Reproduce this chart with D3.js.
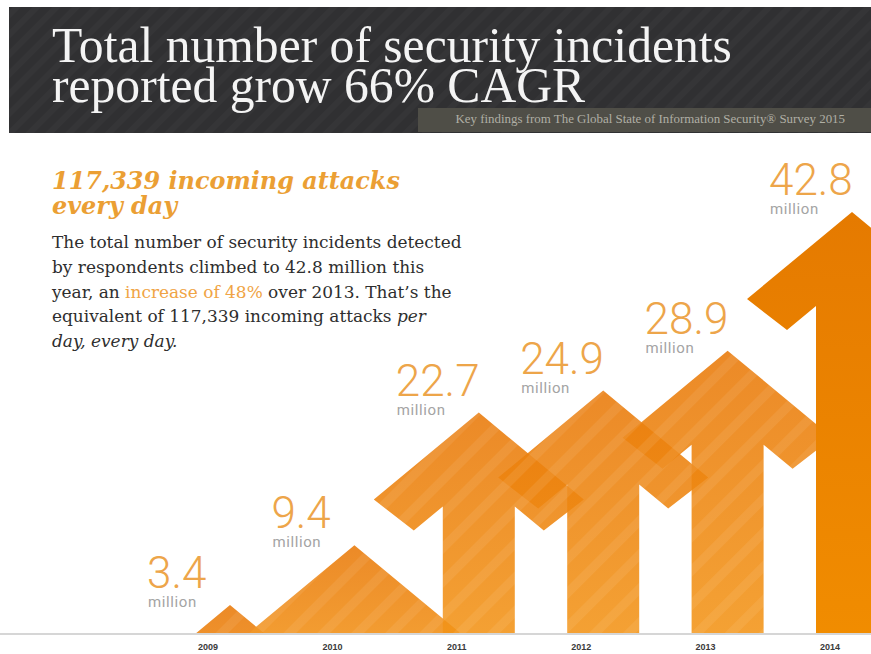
<!DOCTYPE html>
<html>
<head>
<meta charset="utf-8">
<script src="https://cdn.jsdelivr.net/npm/d3@7"></script>
<style>
  body { margin: 0; background: #fff; }
  svg { display: block; }
</style>
</head>
<body>
<div id="container"></div>
<script>
const years = ["2009", "2010", "2011", "2012", "2013", "2014"];
const incidents = [3.4, 9.4, 22.7, 24.9, 28.9, 42.8];
const unitLabel = "million";

const titleLines = ["Total number of security incidents", "reported grow 66% CAGR"];
const subtitle = "Key findings from The Global State of Information Security® Survey 2015";
const headline = ["117,339 incoming attacks", "every day"];
// each line is a list of [text, kind] pieces; kind "hi" = orange, "it" = italic
const bodyLines = [
  [["The total number of security incidents detected", ""]],
  [["by respondents climbed to 42.8 million this", ""]],
  [["year, an ", ""], ["increase of 48%", "hi"], [" over 2013. That\u2019s the", ""]],
  [["equivalent of 117,339 incoming attacks ", ""], ["per", "it"]],
  [["day, every day.", "it"]]
];

const width = 871, height = 654;
const baseY = 633;

const svg = d3.create("svg")
  .attr("width", width)
  .attr("height", height);
container.append(svg.node());

const defs = svg.append("defs");

// diagonal stripe textures
const hStripes = defs.append("pattern")
  .attr("id", "hstripes")
  .attr("patternUnits", "userSpaceOnUse")
  .attr("width", 14).attr("height", 14)
  .attr("patternTransform", "rotate(45)");
hStripes.append("rect").attr("width", 6).attr("height", 14).attr("fill", "#fff").attr("opacity", 0.025);

const aStripes = defs.append("pattern")
  .attr("id", "astripes")
  .attr("patternUnits", "userSpaceOnUse")
  .attr("width", 24).attr("height", 24)
  .attr("patternTransform", "rotate(45)");
aStripes.append("rect").attr("width", 9).attr("height", 24).attr("fill", "#fff").attr("opacity", 0.07);

const g1 = defs.append("linearGradient").attr("id", "agrad")
  .attr("x1", 0).attr("y1", 0).attr("x2", 0).attr("y2", 1);
g1.append("stop").attr("offset", "0%").attr("stop-color", "#e97a0a");
g1.append("stop").attr("offset", "100%").attr("stop-color", "#f4981a");

const g2 = defs.append("linearGradient").attr("id", "agrad2")
  .attr("x1", 0).attr("y1", 0).attr("x2", 0).attr("y2", 1);
g2.append("stop").attr("offset", "0%").attr("stop-color", "#e57a00");
g2.append("stop").attr("offset", "100%").attr("stop-color", "#f28e00");

defs.append("clipPath").attr("id", "aboveBase")
  .append("rect").attr("x", 0).attr("y", 0).attr("width", width).attr("height", baseY);

// ---- header band ----
svg.append("rect").attr("x", 9).attr("y", 7).attr("width", width - 9).attr("height", 126).attr("fill", "#303032");
svg.append("rect").attr("x", 9).attr("y", 7).attr("width", width - 9).attr("height", 126).attr("fill", "url(#hstripes)");
svg.append("rect").attr("x", 418).attr("y", 108).attr("width", width - 418).attr("height", 24).attr("fill", "#4f4e47");

// scale a text node so it spans a given width
const fit = function (sel, target) {
  const len = sel.node().getComputedTextLength();
  const size = parseFloat(sel.attr("font-size"));
  sel.attr("font-size", size * target / len);
}

const title = svg.append("g")
  .attr("font-family", "Liberation Serif, serif")
  .attr("fill", "#f4f4f4");
const t1 = title.append("text").attr("x", 52).attr("y", 62).attr("font-size", 40).text(titleLines[0]);
fit(t1, 680);
title.append("text").attr("x", 52).attr("y", 102).attr("font-size", t1.attr("font-size")).text(titleLines[1]);

const sub = svg.append("text")
  .attr("x", 845).attr("y", 123)
  .attr("text-anchor", "end")
  .attr("font-family", "Liberation Serif, serif")
  .attr("font-size", 9)
  .attr("fill", "#b0afa5")
  .text(subtitle);
fit(sub, 390);

// ---- left text block ----
const hl = svg.append("g")
  .attr("font-family", "DejaVu Serif, serif")
  .attr("font-weight", "bold")
  .attr("font-style", "italic")
  .attr("fill", "#eb9f34");
const h1 = hl.append("text").attr("x", 52).attr("y", 189).attr("font-size", 20).text(headline[0]);
fit(h1, 348);
hl.append("text").attr("x", 52).attr("y", 214).attr("font-size", h1.attr("font-size")).text(headline[1]);

const body = svg.append("g")
  .attr("font-family", "DejaVu Serif, serif")
  .attr("font-size", 14.5)
  .attr("fill", "#2e2e2e");
bodyLines.forEach((pieces, i) => {
  const t = body.append("text").attr("x", 52).attr("y", 248 + i * 24.8);
  pieces.forEach(([txt, kind]) => {
    t.append("tspan")
      .attr("fill", kind === "hi" ? "#f0a445" : null)
      .attr("font-style", kind === "it" ? "italic" : null)
      .text(txt);
  });
});
// size the paragraph so its first line spans the same width as in the picture
const firstLen = body.select("text").node().getComputedTextLength();
body.attr("font-size", 14.5 * 410 / firstLen);

// ---- arrows ----
const x = d3.scalePoint().domain(years).range([230, 852]);
const y = d3.scaleLinear().domain([0, 42.8]).range([639, 212]);

// arrow shape constants: head half-span, head drop, arm thickness, stem half width
const W = 105, H = 87, TX = 40, TY = 31, S = 36;
const arrowPath = function (cx, py) {
  const tipY = py + H, cornY = py + H + TY;
  const joinY = cornY - (W - TX - S) * H / W;
  const p = d3.path();
  p.moveTo(cx, py);
  p.lineTo(cx + W, tipY);
  p.lineTo(cx + W - TX, cornY);
  p.lineTo(cx + S, joinY);
  p.lineTo(cx + S, baseY + 40);
  p.lineTo(cx - S, baseY + 40);
  p.lineTo(cx - S, joinY);
  p.lineTo(cx - W + TX, cornY);
  p.lineTo(cx - W, tipY);
  p.closePath();
  return p.toString();
}

// baseline
svg.append("line")
  .attr("x1", 0).attr("x2", width)
  .attr("y1", baseY + 1).attr("y2", baseY + 1)
  .attr("stroke", "#d6d6d6").attr("stroke-width", 2);

const last = years.length - 1;
const arrows = svg.append("g").attr("clip-path", "url(#aboveBase)");
const arrow = arrows.selectAll("g")
  .data(incidents)
  .join("g");
arrow.append("path")
  .attr("d", (d, i) => arrowPath(x(years[i]), y(d)))
  .attr("fill", (d, i) => i === last ? "url(#agrad2)" : "url(#agrad)")
  .attr("opacity", (d, i) => i === last ? 1 : 0.88);
arrow.filter((d, i) => i !== last)
  .append("path")
  .attr("d", (d, i) => arrowPath(x(years[i]), y(d)))
  .attr("fill", "url(#astripes)");

// value labels
const labels = svg.selectAll(".val")
  .data(incidents)
  .join("g")
  .attr("class", "val")
  .attr("transform", (d, i) => `translate(${x(years[i]) - 83},${y(d)})`);
labels.append("text")
  .attr("y", -17)
  .attr("font-family", "Roboto, sans-serif")
  .attr("font-weight", 300)
  .attr("font-size", 44)
  .attr("fill", "#eda54a")
  .text(d => d.toFixed(1));
labels.append("text")
  .attr("x", 1)
  .attr("y", 2)
  .attr("font-family", "Roboto, sans-serif")
  .attr("font-size", 15)
  .attr("letter-spacing", 0.6)
  .attr("fill", "#a4a4a4")
  .text(unitLabel);

// year labels
svg.selectAll(".yr")
  .data(years)
  .join("text")
  .attr("class", "yr")
  .attr("x", d => x(d) - 22)
  .attr("y", 650)
  .attr("text-anchor", "middle")
  .attr("font-family", "Liberation Sans, Arial, sans-serif")
  .attr("font-weight", "bold")
  .attr("font-size", 9)
  .attr("fill", "#3a3a3a")
  .text(d => d);
</script>
</body>
</html>
